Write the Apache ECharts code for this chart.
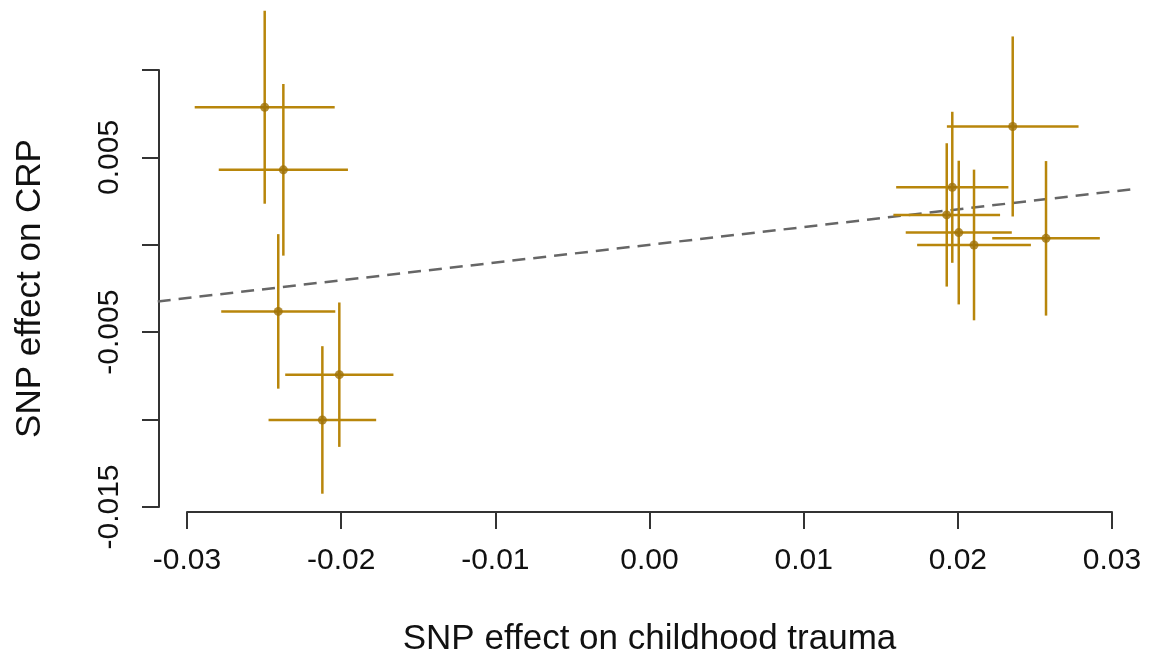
<!DOCTYPE html>
<html>
<head>
<meta charset="utf-8">
<script src="https://cdn.jsdelivr.net/npm/echarts@6/dist/echarts.min.js"></script>
<style>
  html, body { margin: 0; padding: 0; background: #fff; }
  #main { width: 1151px; height: 658px; }
</style>
</head>
<body>
<div id="main"></div>
<script>
// SNP effects (x = childhood trauma, y = CRP) and error bar half-widths
var snpX = [-0.02496, -0.02375, -0.02408, -0.02012, -0.02122, 0.02356, 0.01964, 0.01928, 0.02006, 0.02105, 0.02572];
var snpY = [0.00787, 0.00429, -0.00381, -0.00743, -0.01002, 0.00677, 0.00329, 0.00171, 0.00070, -0.00001, 0.00037];
var xErr = [0.00454, 0.00419, 0.00370, 0.00351, 0.00349, 0.00427, 0.00364, 0.00346, 0.00344, 0.00369, 0.00349];
var yErr = [0.00552, 0.00491, 0.00442, 0.00413, 0.00422, 0.00515, 0.00432, 0.00410, 0.00411, 0.00431, 0.00442];

// fitted line through the origin
var ivwSlope = 0.1015;
// plot region (R usr) limits on x, the line runs across it
var usrX = [-0.0319, 0.0317];

var xTicks = ['-0.03', '-0.02', '-0.01', '0.00', '0.01', '0.02', '0.03'];
var yTickLabels = ['-0.015', '-0.005', '0.005'];

var barColor = '#B8860B';
var pointColor = '#9E7108';
var font = '"Liberation Sans", Arial, Helvetica, sans-serif';

var points = [];
var bars = [];
for (var i = 0; i < snpX.length; i++) {
    points.push([snpX[i], snpY[i]]);
    bars.push([snpX[i], snpY[i], xErr[i], yErr[i]]);
}
var fitLine = [[usrX[0], ivwSlope * usrX[0], usrX[1], ivwSlope * usrX[1]]];

var myChart = echarts.init(document.getElementById('main'), null, { renderer: 'canvas' });

option = {
    backgroundColor: '#fff',
    animation: false,
    grid: { left: 187, right: 39, top: 70, bottom: 151, containLabel: false, outerBoundsMode: 'none' },
    xAxis: {
        type: 'value',
        min: -0.03,
        max: 0.03,
        interval: 0.01,
        offset: 5,
        splitLine: { show: false },
        axisLine: { show: true, onZero: false, lineStyle: { color: '#333', width: 2 } },
        axisTick: { show: true, length: 17, lineStyle: { color: '#333', width: 2 } },
        axisLabel: {
            margin: 34,
            fontSize: 30,
            fontFamily: font,
            color: '#111',
            formatter: function (v) {
                var idx = Math.round((v + 0.03) / 0.01);
                return xTicks[idx];
            }
        },
        name: 'SNP effect on childhood trauma',
        nameLocation: 'middle',
        nameGap: 110,
        nameTextStyle: { fontSize: 35, fontFamily: font, color: '#111' }
    },
    yAxis: {
        type: 'value',
        min: -0.015,
        max: 0.01,
        interval: 0.005,
        offset: 28,
        splitLine: { show: false },
        axisLine: { show: true, onZero: false, lineStyle: { color: '#333', width: 2 } },
        axisTick: { show: true, length: 17, lineStyle: { color: '#333', width: 2 } },
        axisLabel: {
            rotate: 90,
            margin: 34,
            fontSize: 30,
            fontFamily: font,
            color: '#111',
            formatter: function (v) {
                var s = v.toFixed(3);
                return yTickLabels.indexOf(s) >= 0 ? s : '';
            }
        },
        name: 'SNP effect on CRP',
        nameLocation: 'middle',
        nameGap: 111,
        nameTextStyle: { fontSize: 35, fontFamily: font, color: '#111' }
    },
    series: [
        {
            type: 'custom',
            data: fitLine,
            clip: false,
            silent: true,
            encode: { x: [0, 2], y: [1, 3] },
            renderItem: function (params, api) {
                var a = api.coord([api.value(0), api.value(1)]);
                var b = api.coord([api.value(2), api.value(3)]);
                return {
                    type: 'line',
                    shape: { x1: a[0], y1: a[1], x2: b[0], y2: b[1] },
                    style: { stroke: '#666', lineWidth: 2.5, lineDash: [13, 8] }
                };
            },
            z: 1
        },
        {
            type: 'custom',
            data: bars,
            clip: false,
            encode: { x: 0, y: 1 },
            renderItem: function (params, api) {
                var x = api.value(0), y = api.value(1);
                var ex = api.value(2), ey = api.value(3);
                var l = api.coord([x - ex, y]);
                var r = api.coord([x + ex, y]);
                var t = api.coord([x, y + ey]);
                var b = api.coord([x, y - ey]);
                var st = { stroke: barColor, lineWidth: 2.5 };
                return {
                    type: 'group',
                    children: [
                        { type: 'line', shape: { x1: l[0], y1: l[1], x2: r[0], y2: r[1] }, style: st },
                        { type: 'line', shape: { x1: t[0], y1: t[1], x2: b[0], y2: b[1] }, style: st }
                    ]
                };
            },
            z: 2
        },
        {
            type: 'scatter',
            data: points,
            symbol: 'circle',
            symbolSize: 9,
            clip: false,
            itemStyle: { color: pointColor },
            z: 3
        }
    ]
};

myChart.setOption(option);
</script>
</body>
</html>
